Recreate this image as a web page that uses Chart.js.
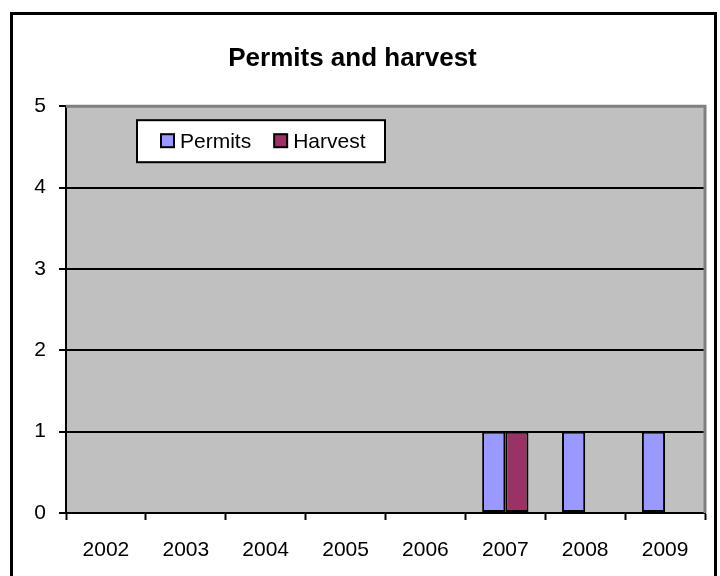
<!DOCTYPE html>
<html>
<head>
<meta charset="utf-8">
<script src="https://cdn.jsdelivr.net/npm/chart.js@4/dist/chart.umd.min.js"></script>
<style>
  html, body { margin: 0; padding: 0; background: #fff; }
  #wrap { width: 720px; height: 576px; }
</style>
</head>
<body>
<div id="wrap"><canvas id="chart1" width="720" height="576"></canvas></div>
<script>
var years = ["2002", "2003", "2004", "2005", "2006", "2007", "2008", "2009"];
var permits = [0, 0, 0, 0, 0, 1, 1, 1];
var harvest = [0, 0, 0, 0, 0, 1, 0, 0];
var yTicks = [0, 1, 2, 3, 4, 5];

var fontFamily = "'Liberation Sans', Arial, sans-serif";

// frame, plot background and plot border
var framePlugin = {
  id: "frame",
  beforeDraw: function (chart) {
    var c = chart.ctx;
    var a = chart.chartArea;
    c.save();
    c.fillStyle = "#fff";
    c.fillRect(0, 0, chart.width, chart.height);
    c.lineWidth = 3;
    c.strokeStyle = "#000";
    c.strokeRect(11.5, 13.5, 704, 580);
    c.fillStyle = "#c0c0c0";
    c.fillRect(a.left, a.top, a.right - a.left, a.bottom - a.top);
    c.restore();
  },
  beforeDatasetsDraw: function (chart) {
    var c = chart.ctx;
    var a = chart.chartArea;
    c.save();
    c.strokeStyle = "#808080";
    c.lineWidth = 3;
    c.beginPath();
    c.moveTo(a.left, a.top);
    c.lineTo(a.right, a.top);
    c.lineTo(a.right, a.bottom);
    c.stroke();
    c.restore();
  },
};

// legend box inside the plot
var boxLegend = {
  id: "boxLegend",
  afterDraw: function (chart) {
    var c = chart.ctx;
    var a = chart.chartArea;
    var x = a.left + 71, y = a.top + 14, w = 248, h = 42;
    c.save();
    c.fillStyle = "#fff";
    c.fillRect(x, y, w, h);
    c.lineWidth = 2;
    c.strokeStyle = "#000";
    c.strokeRect(x, y, w, h);
    c.font = "21px " + fontFamily;
    c.textBaseline = "middle";
    var cx = x + 24;
    var cy = y + h / 2;
    chart.data.datasets.forEach(function (ds) {
      c.fillStyle = ds.backgroundColor;
      c.fillRect(cx, cy - 7, 13, 13);
      c.strokeRect(cx, cy - 7, 13, 13);
      c.fillStyle = "#000";
      c.fillText(ds.label, cx + 19, cy + 1);
      cx += 19 + c.measureText(ds.label).width + 23;
    });
    c.restore();
  },
};

var ctx = document.getElementById("chart1").getContext("2d");
var myChart = new Chart(ctx, {
  type: "bar",
  data: {
    labels: years,
    datasets: [
      {
        label: "Permits",
        data: permits,
        backgroundColor: "#9999ff",
        borderColor: "#000",
        borderWidth: 2,
        borderSkipped: false,
      },
      {
        label: "Harvest",
        data: harvest,
        backgroundColor: "#993366",
        borderColor: "#000",
        borderWidth: 2,
        borderSkipped: false,
      },
    ],
  },
  options: {
    responsive: false,
    animation: false,
    categoryPercentage: 0.58,
    barPercentage: 1,
    layout: {
      padding: { left: 0, right: 15, top: 0, bottom: 0 },
    },
    plugins: {
      legend: { display: false },
      tooltip: { enabled: false },
      title: {
        display: true,
        text: "Permits and harvest",
        color: "#000",
        font: { family: fontFamily, size: 26, weight: "bold", lineHeight: 1.2 },
        padding: { top: 43, bottom: 32 },
      },
    },
    scales: {
      x: {
        offset: true,
        grid: {
          offset: true,
          drawOnChartArea: false,
          drawTicks: true,
          tickLength: 7,
          tickColor: "#000",
          tickWidth: 2,
        },
        border: { color: "#000", width: 2 },
        ticks: {
          color: "#000",
          padding: 18,
          font: { family: fontFamily, size: 21 },
          maxRotation: 0,
        },
        afterFit: function (scale) {
          scale.height = 63;
        },
      },
      y: {
        min: 0,
        max: 5,
        afterBuildTicks: function (scale) {
          scale.ticks = yTicks.map(function (v) {
            return { value: v };
          });
        },
        grid: {
          color: function (c) {
            return c.tick && c.tick.value === 5 ? "rgba(0,0,0,0)" : "#000";
          },
          lineWidth: 2,
          tickLength: 7,
          tickColor: "#000",
          tickWidth: 2,
        },
        border: { color: "#000", width: 2 },
        ticks: {
          color: "#000",
          padding: 13,
          font: { family: fontFamily, size: 21 },
        },
        afterFit: function (scale) {
          scale.width = 66;
        },
      },
    },
  },
  plugins: [framePlugin, boxLegend],
});
</script>
</body>
</html>
